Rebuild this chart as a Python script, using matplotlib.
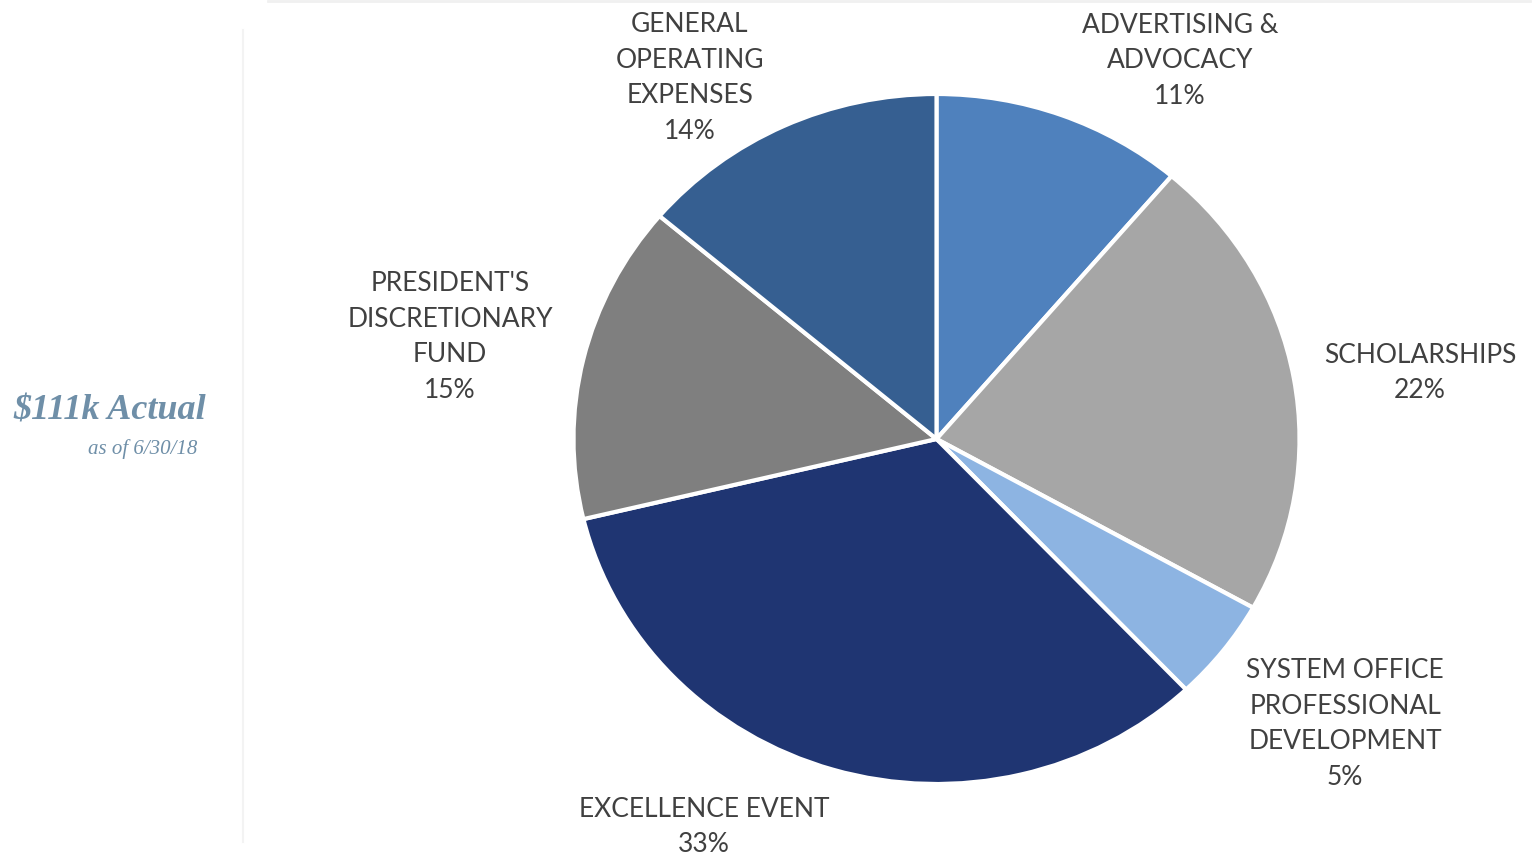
import matplotlib
matplotlib.use("Agg")
import matplotlib.pyplot as plt
from matplotlib.lines import Line2D

categories = ["ADVERTISING &\nADVOCACY", "SCHOLARSHIPS", "SYSTEM OFFICE\nPROFESSIONAL\nDEVELOPMENT",
              "EXCELLENCE EVENT", "PRESIDENT'S\nDISCRETIONARY\nFUND", "GENERAL\nOPERATING\nEXPENSES"]
values = [11.2, 21.9, 4.8, 33.3, 14.9, 13.8]
colors = ["#4F81BD", "#A6A6A6", "#8DB4E2", "#1F3572", "#7F7F7F", "#365F91"]
# label centre positions (pixels, from top-left of figure)
label_pos = [(1180, 61), (1420, 373), (1345, 724), (704, 827), (450, 337), (690, 78)]

W, H = 1536, 857
fig = plt.figure(figsize=(W / 100, H / 100), dpi=100)
fig.patch.set_facecolor("white")

cx, cy, rx, ry = 936.5, 439, 363, 345
ax = fig.add_axes([(cx - rx) / W, (H - cy - ry) / H, 2 * rx / W, 2 * ry / H])
ax.pie(values, colors=colors, startangle=90, counterclock=False,
       wedgeprops=dict(edgecolor="white", linewidth=3), radius=1)
ax.set_aspect("auto")
ax.set_xlim(-1, 1)
ax.set_ylim(-1, 1)
ax.axis("off")

total = sum(values)
for cat, v, (px, py) in zip(categories, values, label_pos):
    fig.text(px / W, 1 - py / H, f"{cat}\n{round(v / total * 100)}%",
             ha="center", va="center", fontsize=19, color="#404040",
             family=["Lato", "DejaVu Sans"], linespacing=1.53, multialignment="center")

# decorative faint lines
fig.add_artist(Line2D([243 / W, 243 / W], [1 - 30 / H, 1 - 842 / H], color="#F3F3F3", lw=1.5,
                      transform=fig.transFigure))
fig.add_artist(Line2D([268 / W, 1530 / W], [1 - 1 / H, 1 - 1 / H], color="#F0F0F0", lw=2,
                      transform=fig.transFigure))

fig.text(206 / W, 1 - 411 / H, "\\$111k Actual", ha="right", va="center", fontsize=26,
         style="italic", weight="bold", color="#6F8FA8", family="Liberation Serif")
fig.text(197 / W, 1 - 449 / H, "as of 6/30/18", ha="right", va="center", fontsize=15,
         style="italic", color="#6F8FA8", family="Liberation Serif")

fig.savefig("out.png", dpi=100, facecolor="white")
